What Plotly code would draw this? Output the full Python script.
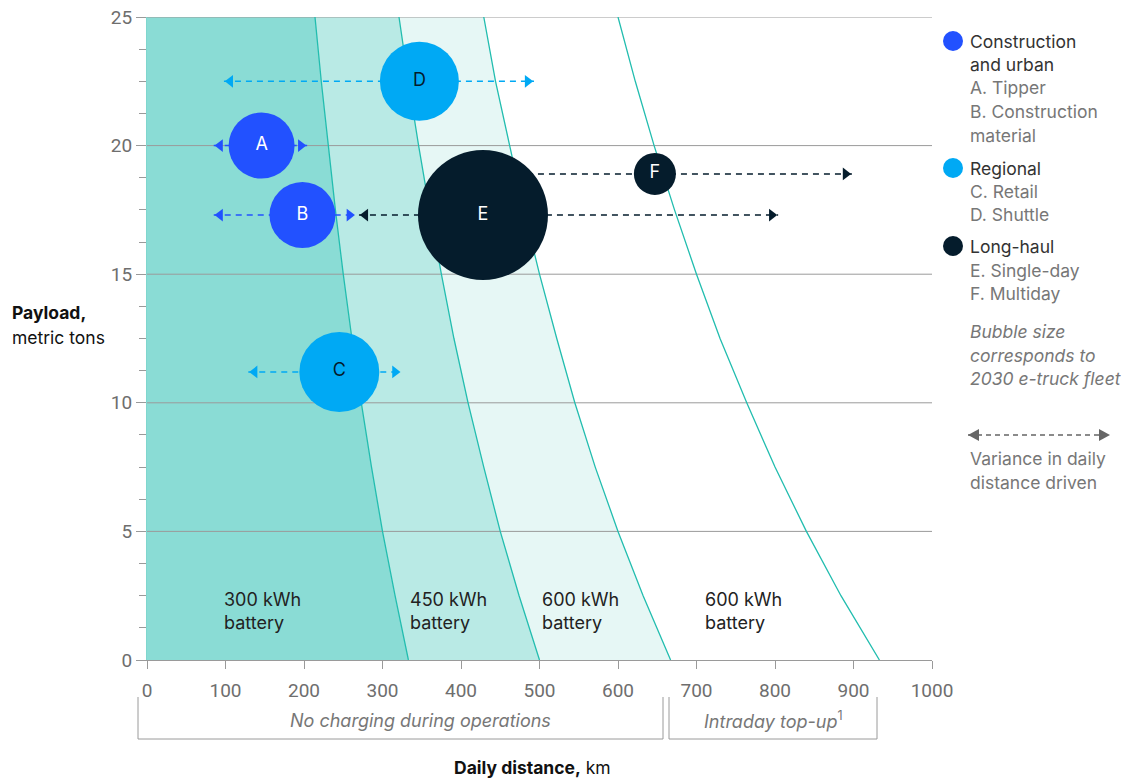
import plotly.graph_objects as go

# ---------------- data ----------------
payload = [0, 2.5, 5, 7.5, 10, 12.5, 15, 17.5, 20, 22.5, 25]
dist_300 = [333, 316, 300, 286, 273, 261, 250, 240, 231, 222, 214]
dist_450 = [500, 474, 450, 429, 409, 391, 375, 360, 346, 333, 321]
dist_600 = [667, 632, 600, 571, 545, 522, 500, 480, 462, 444, 429]
dist_topup = [933, 884, 840, 800, 764, 730, 700, 672, 646, 622, 600]

labels = ["A", "B", "C", "D", "E", "F"]
segments = ["Construction", "Construction", "Regional", "Regional", "Long-haul", "Long-haul"]
bub_x = [146, 198, 245, 347, 428, 647]
bub_y = [20, 17.3, 11.2, 22.5, 17.3, 18.9]
fleet = [66, 66, 80, 79, 130, 42]
var_lo = [85, 85, 129, 98, 270, 470]
var_hi = [204, 266, 324, 493, 804, 898]

battery_labels = ["300 kWh<br>battery", "450 kWh<br>battery", "600 kWh<br>battery", "600 kWh<br>battery"]
battery_x = [96, 332, 500, 708]
battery_y = [1.9, 1.9, 1.9, 1.9]

y_ticks = [0, 5, 10, 15, 20, 25]
x_ticks = [0, 100, 200, 300, 400, 500, 600, 700, 800, 900, 1000]

# ---------------- style ----------------
seg_color = {"Construction": "#2251FF", "Regional": "#00A9F4", "Long-haul": "#051C2C"}
txt_color = {"A": "white", "B": "white", "C": "#051C2C", "D": "#051C2C", "E": "white", "F": "white"}
FONT = "Inter, Roboto, Arial, sans-serif"
TICKFONT = "Roboto, Arial, sans-serif"
TS = 18
TEAL_LINE = "#22BDAF"
FILLS = ["#8ADCD5", "#B9EAE5", "#E6F7F5"]
GRID = "#9A9A9A"

W, H = 1144, 778
ML, MR, MT, MB = 147, 212, 17, 118
PW, PH = W - ML - MR, H - MT - MB
XR = (0, 1000)
px_per_km = PW / (XR[1] - XR[0])


def px(xp, yp):
    return (xp - ML) / PW, (MT + PH - yp) / PH


fig = go.Figure()

# fills
fig.add_trace(go.Scatter(x=dist_300, y=payload, mode="lines", line=dict(width=0),
                         fill="tozerox", fillcolor=FILLS[0], hoverinfo="skip", showlegend=False))
fig.add_trace(go.Scatter(x=dist_450, y=payload, mode="lines", line=dict(width=0),
                         fill="tonextx", fillcolor=FILLS[1], hoverinfo="skip", showlegend=False))
fig.add_trace(go.Scatter(x=dist_600, y=payload, mode="lines", line=dict(width=0),
                         fill="tonextx", fillcolor=FILLS[2], hoverinfo="skip", showlegend=False))

# grid lines drawn above fills
gx, gy = [], []
for t in y_ticks[1:]:
    gx += [XR[0], XR[1], None]
    gy += [t, t, None]
fig.add_trace(go.Scatter(x=gx, y=gy, mode="lines", line=dict(color=GRID, width=1),
                         hoverinfo="skip", showlegend=False))

# curve lines
for d in [dist_300, dist_450, dist_600, dist_topup]:
    fig.add_trace(go.Scatter(x=d, y=payload, mode="lines", line=dict(color=TEAL_LINE, width=1.3),
                             hoverinfo="skip", showlegend=False))

# variance arrows
MS = 11
tip_off = (MS / 2) * 2 / 3 ** 0.5 / px_per_km
for i in range(len(labels)):
    c = seg_color[segments[i]]
    fig.add_trace(go.Scatter(x=[var_lo[i], var_hi[i]], y=[bub_y[i], bub_y[i]], mode="lines",
                             line=dict(color=c, width=1.5, dash="6px,5px"),
                             hoverinfo="skip", showlegend=False))
    fig.add_trace(go.Scatter(x=[var_lo[i] + tip_off, var_hi[i] - tip_off], y=[bub_y[i], bub_y[i]],
                             mode="markers",
                             marker=dict(symbol=["triangle-left", "triangle-right"], size=MS, color=c,
                                         line=dict(width=0)),
                             hoverinfo="skip", showlegend=False))

# bubbles
fig.add_trace(go.Scatter(
    x=bub_x, y=bub_y, mode="markers+text", text=labels, textposition="middle center",
    textfont=dict(family=FONT, size=TS, color=[txt_color[l] for l in labels]),
    marker=dict(size=fleet, sizemode="diameter", sizeref=1,
                color=[seg_color[s] for s in segments], line=dict(width=0), opacity=1),
    hoverinfo="skip", showlegend=False))

annotations = []
shapes = []

# battery labels
for t, x, y in zip(battery_labels, battery_x, battery_y):
    annotations.append(dict(x=x, y=y, xref="x", yref="y", text=t, showarrow=False,
                            xanchor="left", yanchor="middle", align="left",
                            font=dict(family=FONT, size=TS, color="#222222")))

# y-axis title
for text, yp in [("<b>Payload,</b>", 312), ("metric tons", 338)]:
    px_, py_ = px(10, yp)
    annotations.append(dict(x=px_, y=py_, xref="paper", yref="paper", text=text,
                            showarrow=False, xanchor="left", yanchor="middle",
                            font=dict(family=FONT, size=TS - 0.5, color="#111111")))

# x-axis title
px_, py_ = px(532, 767)
annotations.append(dict(x=px_, y=py_, xref="paper", yref="paper", text="<b>Daily distance,</b> km",
                        showarrow=False, xanchor="center", yanchor="middle",
                        font=dict(family=FONT, size=TS - 0.5, color="#111111")))

# brackets
for (x0p, x1p, label, cx) in [(138, 663, "<i>No charging during operations</i>", 420),
                              (669, 877, "<i>Intraday top-up</i><sup>1</sup>", 773)]:
    a0, yt = px(x0p, 697)
    a1, yb = px(x1p, 739)
    shapes.append(dict(type="path", xref="paper", yref="paper",
                       path=f"M {a0},{yt} L {a0},{yb} L {a1},{yb} L {a1},{yt}",
                       line=dict(color="#9A9A9A", width=1)))
    cxp, cyp = px(cx, 720)
    annotations.append(dict(x=cxp, y=cyp, xref="paper", yref="paper", text=label, showarrow=False,
                            xanchor="center", yanchor="middle",
                            font=dict(family=FONT, size=TS, color="#777777")))

# legend
for col, yp in [(seg_color["Construction"], 41), (seg_color["Regional"], 168),
                (seg_color["Long-haul"], 246)]:
    ax_, ay_ = px(953, yp)
    shapes.append(dict(type="circle", xref="paper", yref="paper", xsizemode="pixel", ysizemode="pixel",
                       xanchor=ax_, yanchor=ay_, x0=-10, x1=10, y0=-10, y1=10,
                       fillcolor=col, line=dict(width=0)))

legend_lines = [
    ("Construction", 41, "#333333", False),
    ("and urban", 64, "#333333", False),
    ("A. Tipper", 88, "#777777", False),
    ("B. Construction", 112, "#777777", False),
    ("material", 135, "#777777", False),
    ("Regional", 168, "#333333", False),
    ("C. Retail", 191, "#777777", False),
    ("D. Shuttle", 214, "#777777", False),
    ("Long-haul", 246, "#333333", False),
    ("E. Single-day", 270, "#777777", False),
    ("F. Multiday", 293, "#777777", False),
    ("Bubble size", 331, "#777777", True),
    ("corresponds to", 355, "#777777", True),
    ("2030 e-truck fleet", 378, "#777777", True),
    ("Variance in daily", 458, "#777777", False),
    ("distance driven", 482, "#777777", False),
]
for t, yp, col, it in legend_lines:
    ax_, ay_ = px(968, yp)
    annotations.append(dict(x=ax_, y=ay_, xref="paper", yref="paper",
                            text=f"<i>{t}</i>" if it else t, showarrow=False,
                            xanchor="left", yanchor="middle",
                            font=dict(family=FONT, size=TS - 0.5, color=col)))

# legend arrow
l0, ly = px(968, 435)
l1, _ = px(1110, 435)
shapes.append(dict(type="line", xref="paper", yref="paper", x0=l0, x1=l1, y0=ly, y1=ly,
                   line=dict(color="#666666", width=1.5, dash="5px,4px")))
shapes.append(dict(type="path", xref="paper", yref="paper", xsizemode="pixel", ysizemode="pixel",
                   xanchor=l0, yanchor=ly, path="M 0,0 L 11,6 L 11,-6 Z",
                   fillcolor="#666666", line=dict(width=0)))
shapes.append(dict(type="path", xref="paper", yref="paper", xsizemode="pixel", ysizemode="pixel",
                   xanchor=l1, yanchor=ly, path="M 0,0 L -11,6 L -11,-6 Z",
                   fillcolor="#666666", line=dict(width=0)))

fig.update_layout(
    width=W, height=H,
    margin=dict(l=ML, r=MR, t=MT, b=MB, pad=0, autoexpand=False),
    plot_bgcolor="white", paper_bgcolor="white",
    font=dict(family=FONT, size=TS, color="#6E6E6E"),
    showlegend=False,
    annotations=annotations,
    shapes=shapes,
    xaxis=dict(range=list(XR), tickvals=x_ticks, ticktext=[str(v) for v in x_ticks],
               automargin=False,
               showgrid=False, zeroline=False, showline=True, linecolor=GRID, linewidth=1,
               ticks="outside", ticklen=8, tickcolor=GRID, tickwidth=1,
               tickfont=dict(family=TICKFONT, size=19, color="#6E6E6E"), ticklabelstandoff=5,
               fixedrange=True),
    yaxis=dict(range=[0, 25], tickvals=y_ticks, showgrid=False, zeroline=False,
               automargin=False,
               showline=True, linecolor="#7FD6CE", linewidth=1,
               ticks="outside", ticklen=10, tickcolor=GRID, tickwidth=1,
               minor=dict(dtick=1.25, ticks="outside", ticklen=7, tickcolor=GRID, showgrid=False),
               tickfont=dict(family=TICKFONT, size=19, color="#6E6E6E"),
               fixedrange=True),
)

fig.write_html("out.html")
